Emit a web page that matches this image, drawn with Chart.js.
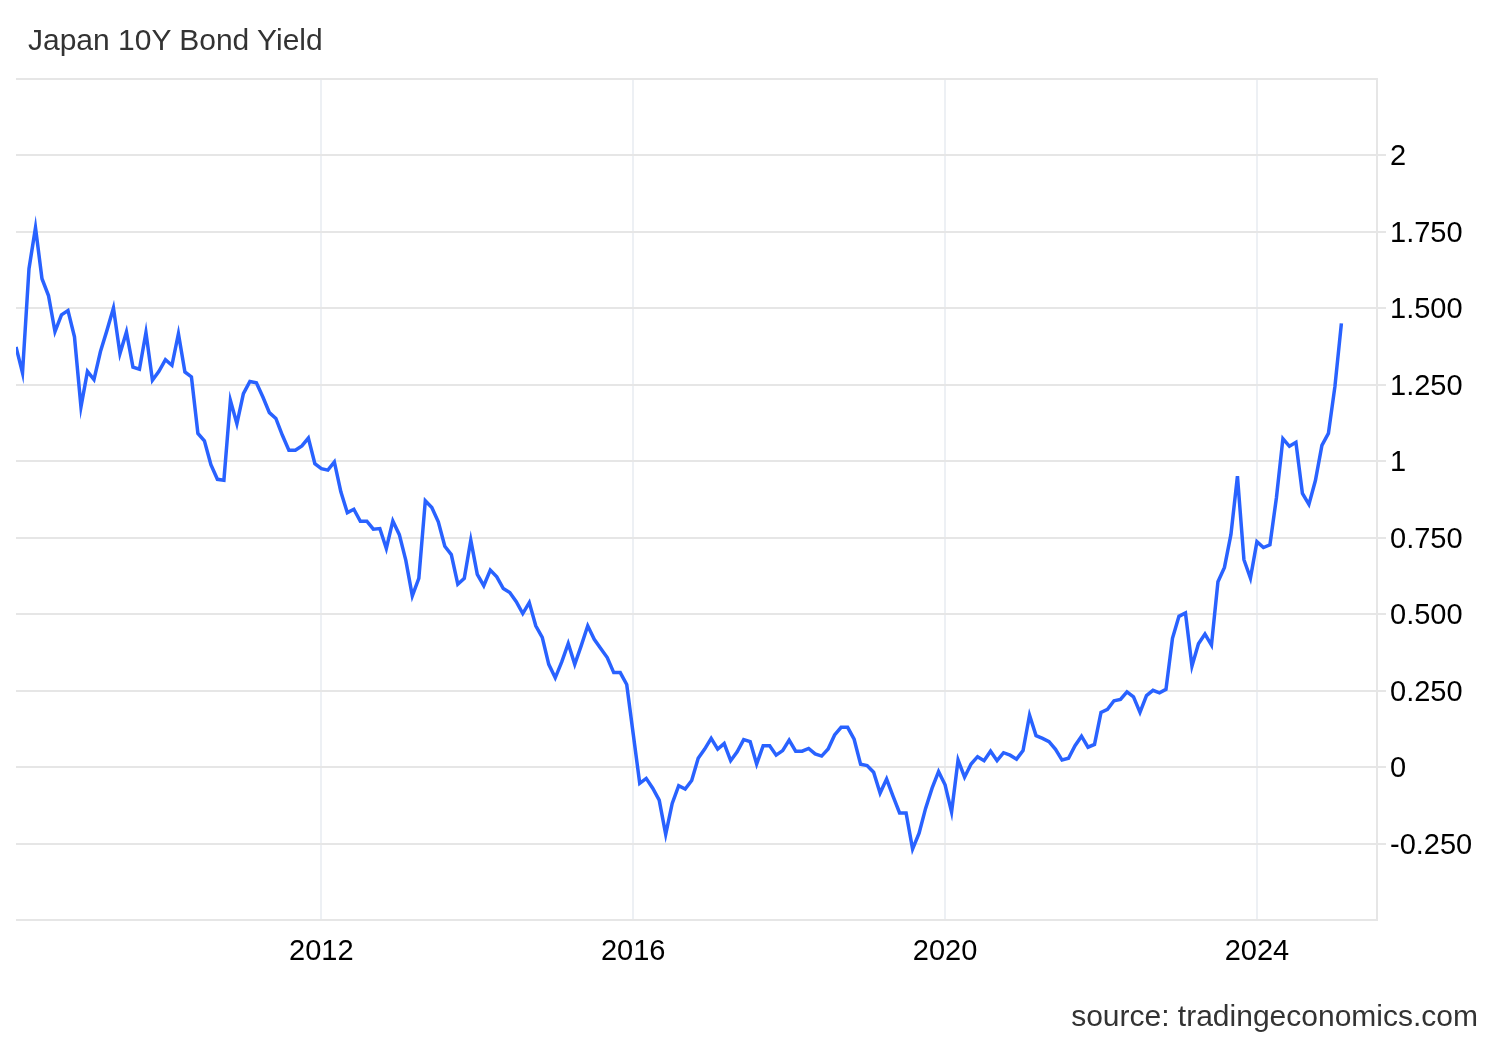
<!DOCTYPE html>
<html>
<head>
<meta charset="utf-8">
<title>Japan 10Y Bond Yield</title>
<script src="https://cdn.jsdelivr.net/npm/chart.js@4.4.1/dist/chart.umd.min.js"></script>
<style>
  html, body { margin: 0; padding: 0; background: #fff; }
  #wrap { position: relative; width: 1500px; height: 1040px; font-family: "Liberation Sans", Arial, sans-serif; }
  #title { position: absolute; left: 28px; top: 22px; font-size: 30px; line-height: 36px; color: #333; }
  #source { position: absolute; right: 22px; top: 998px; font-size: 30px; line-height: 36px; color: #333; }
  canvas { position: absolute; left: 0; top: 0; }
</style>
</head>
<body>
<div id="wrap">
  <canvas id="bondChart" width="1500" height="1040"></canvas>
  <div id="title">Japan 10Y Bond Yield</div>
  <div id="source">source: tradingeconomics.com</div>
</div>
<script>
// monthly closes, first value is Feb 2008, last is Feb 2025
const startYear = 2008;
const startMonth = 2;
const yields = [
  1.374, 1.289, 1.630, 1.764, 1.597, 1.542, 1.424, 1.479, 1.493, 1.407, 1.178,            // 2008
  1.294, 1.267, 1.359, 1.428, 1.501, 1.352, 1.423, 1.308, 1.301, 1.421, 1.265, 1.294,     // 2009
  1.332, 1.314, 1.417, 1.292, 1.276, 1.091, 1.067, 0.989, 0.941, 0.938, 1.199, 1.123,     // 2010
  1.221, 1.261, 1.257, 1.210, 1.159, 1.140, 1.085, 1.036, 1.036, 1.050, 1.076, 0.992,     // 2011
  0.976, 0.971, 0.998, 0.900, 0.832, 0.843, 0.804, 0.804, 0.778, 0.780, 0.715, 0.805,     // 2012
  0.760, 0.676, 0.560, 0.617, 0.871, 0.849, 0.802, 0.722, 0.695, 0.598, 0.617, 0.742,     // 2013
  0.630, 0.593, 0.644, 0.622, 0.584, 0.571, 0.541, 0.502, 0.538, 0.462, 0.424, 0.336,     // 2014
  0.292, 0.344, 0.404, 0.336, 0.397, 0.462, 0.418, 0.388, 0.358, 0.309, 0.309, 0.270,     // 2015
  0.108, -0.053, -0.037, -0.069, -0.108, -0.220, -0.119, -0.061, -0.072, -0.044, 0.029, 0.059, // 2016
  0.094, 0.059, 0.077, 0.021, 0.050, 0.090, 0.083, 0.010, 0.070, 0.070, 0.039, 0.054,     // 2017
  0.088, 0.052, 0.052, 0.061, 0.043, 0.036, 0.059, 0.105, 0.130, 0.130, 0.091, 0.009,     // 2018
  0.005, -0.017, -0.085, -0.039, -0.096, -0.150, -0.150, -0.268, -0.216, -0.135, -0.069, -0.015, // 2019
  -0.058, -0.147, 0.023, -0.033, 0.010, 0.034, 0.021, 0.052, 0.021, 0.047, 0.039, 0.026,  // 2020
  0.054, 0.170, 0.103, 0.094, 0.083, 0.058, 0.023, 0.029, 0.070, 0.101, 0.065, 0.074,     // 2021
  0.179, 0.189, 0.217, 0.221, 0.246, 0.230, 0.179, 0.234, 0.251, 0.243, 0.254, 0.421,     // 2022
  0.493, 0.504, 0.330, 0.403, 0.435, 0.399, 0.606, 0.653, 0.761, 0.951, 0.678, 0.618,     // 2023
  0.737, 0.718, 0.727, 0.881, 1.074, 1.049, 1.062, 0.895, 0.859, 0.937, 1.052, 1.091,     // 2024
  1.244, 1.451                                                                           // 2025
];
const yearTicks = [2012, 2016, 2020, 2024];
const yMin = -0.5, yMax = 2.25, yStep = 0.25;

// x as fractional year, one point per month
const points = yields.map((v, i) => ({
  x: startYear + (startMonth - 1 + i) / 12,
  y: v
}));

function fmtYield(v) {
  if (Math.abs(v - yMin) < 1e-6 || Math.abs(v - yMax) < 1e-6) return '';
  return Number.isInteger(v) ? String(v) : v.toFixed(3);
}

const ctx = document.getElementById('bondChart').getContext('2d');
new Chart(ctx, {
  type: 'line',
  data: {
    datasets: [{
      label: 'Japan 10Y Bond Yield',
      data: points,
      borderColor: '#2962ff',
      borderWidth: 3.5,
      pointRadius: 0,
      tension: 0,
      fill: false
    }]
  },
  options: {
    responsive: false,
    animation: false,
    layout: { padding: { left: 16, top: 79, right: 0, bottom: 0 } },
    plugins: { legend: { display: false }, tooltip: { enabled: false } },
    scales: {
      x: {
        type: 'linear',
        min: startYear + (startMonth - 1) / 12,
        max: 2025.54,
        afterBuildTicks: s => { s.ticks = yearTicks.map(v => ({ value: v })); },
        afterFit: s => { s.height = 120; },
        grid: { color: '#edf0f4', lineWidth: 2, drawTicks: false },
        border: { display: false },
        ticks: {
          padding: 15,
          color: '#000',
          font: { family: '"Liberation Sans", Arial, sans-serif', size: 29 },
          maxRotation: 0,
          callback: v => String(v)
        }
      },
      y: {
        position: 'right',
        min: yMin,
        max: yMax,
        afterFit: s => { s.width = 123; },
        grid: {
          color: '#e6e6e6',
          lineWidth: 2,
          tickLength: 9,
          tickColor: c => (c.tick && fmtYield(c.tick.value) === '') ? 'rgba(0,0,0,0)' : '#e6e6e6'
        },
        border: { display: true, color: '#e6e6e6', width: 2 },
        ticks: {
          stepSize: yStep,
          padding: 4,
          labelOffset: 2,
          color: '#000',
          font: { family: '"Liberation Sans", Arial, sans-serif', size: 29 },
          callback: v => fmtYield(v)
        }
      }
    }
  }
});
</script>
</body>
</html>
